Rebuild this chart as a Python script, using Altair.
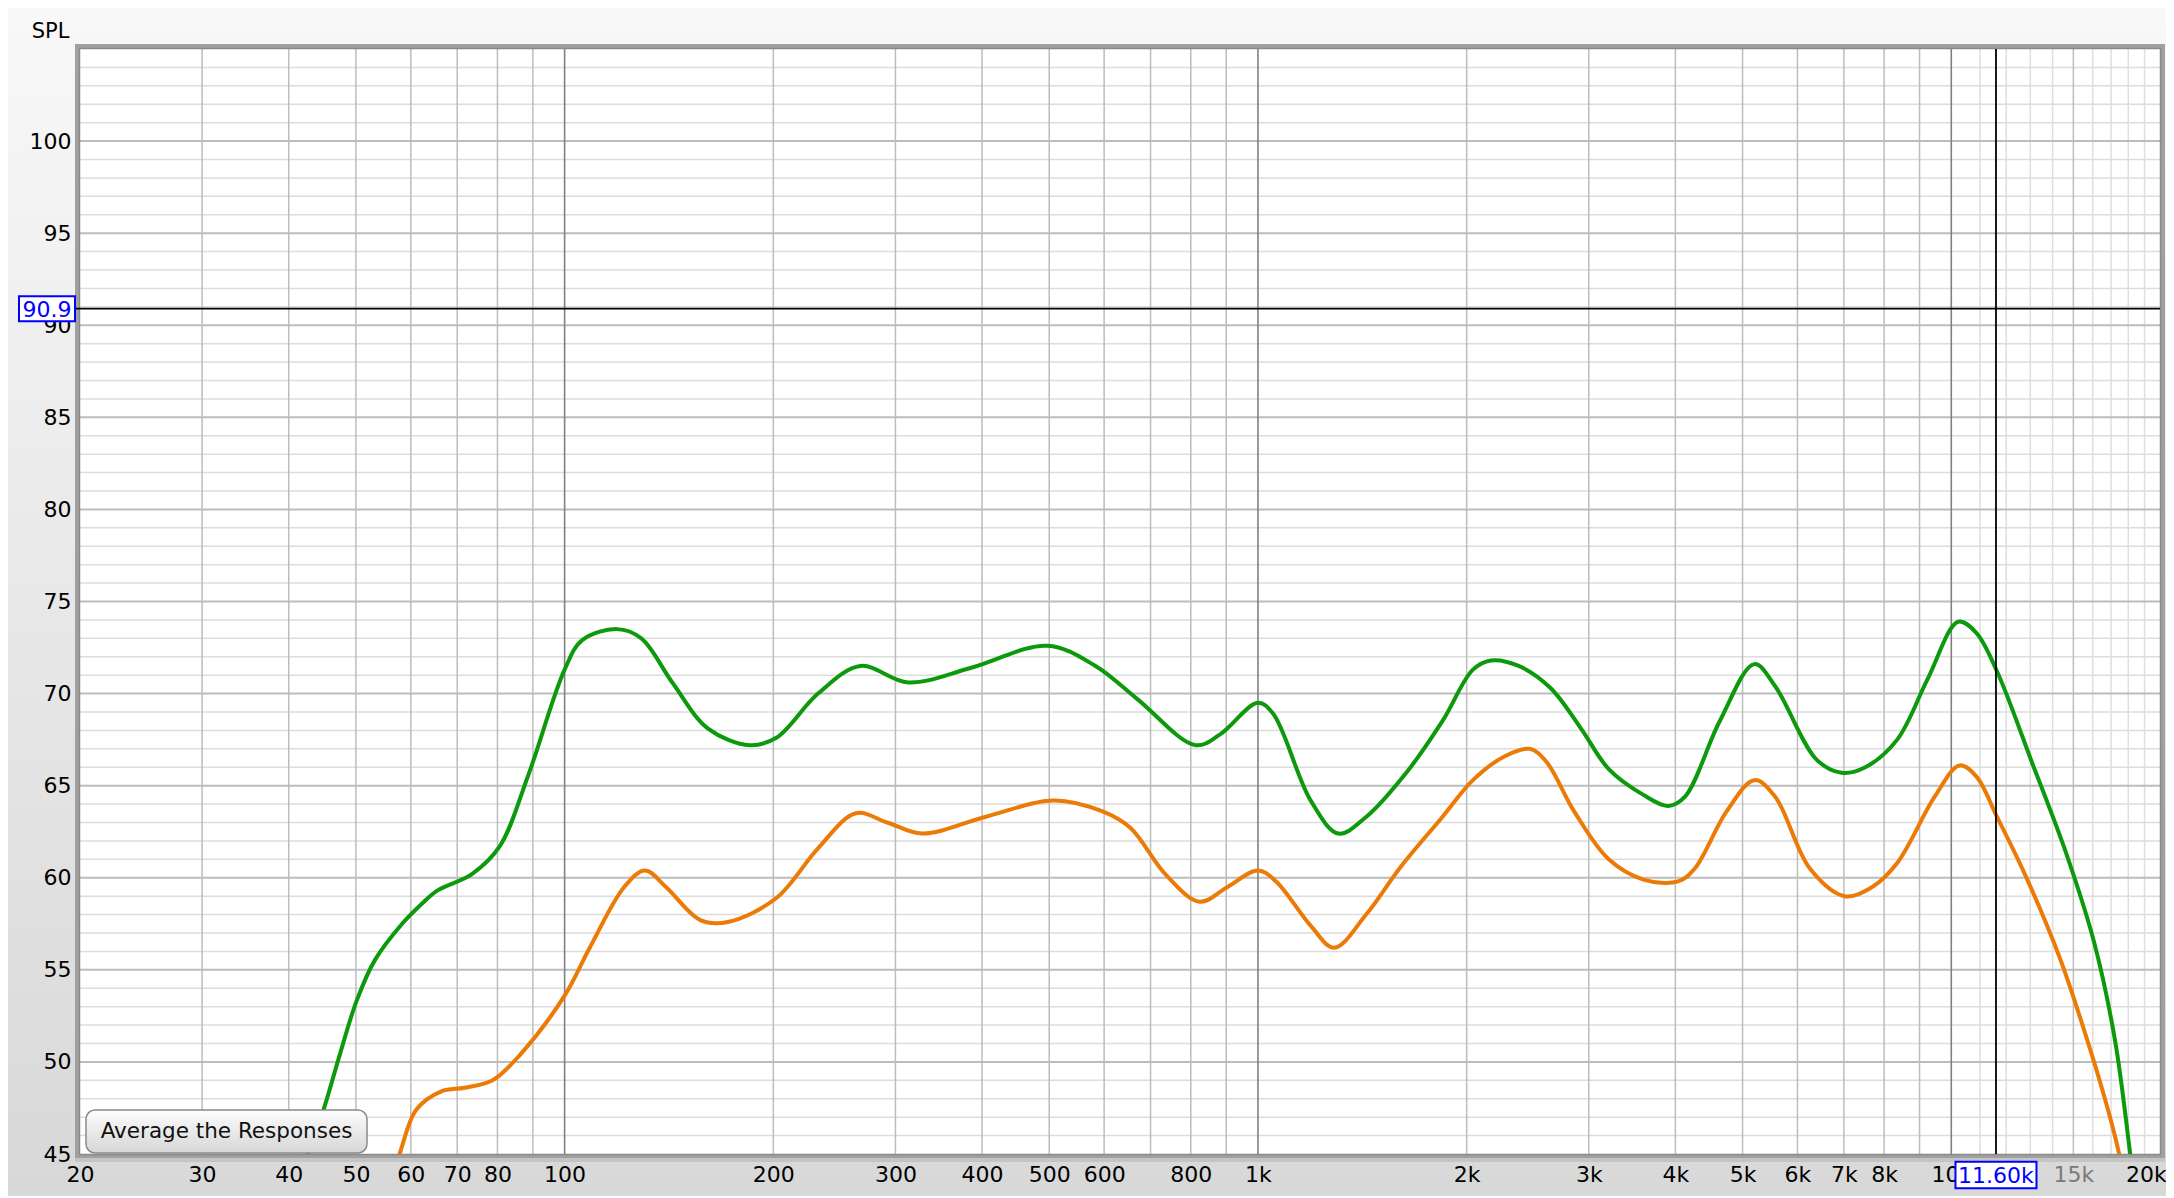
import altair as alt
import pandas as pd

# ---------------- data ----------------
green_freq = [41, 42.6, 44.9, 47.4, 50.1, 53.2, 58.3, 62.3, 65.5, 73.5, 80.6, 88.5, 100, 106, 119, 129, 143,
              161, 185, 202, 232, 267, 313, 386, 497, 583, 670, 813, 883, 1000, 1052,
              1191, 1306, 1432, 1644, 1845, 2042, 2168, 2377, 2642, 2924, 3206, 3597, 3908, 4130,
              4634, 5200, 5572, 6398, 6950, 7516, 8356, 9247, 10233, 10866, 11642, 13062, 14655, 16069,
              17220, 18116, 18800]
green_spl = [43, 45, 47.4, 50.4, 53.3, 55.5, 57.5, 58.6, 59.3, 60.2, 61.7, 65.5, 71.3, 72.9, 73.5, 73.0, 70.6,
             68.1, 67.2, 67.6, 70.0, 71.5, 70.6, 71.4, 72.6, 71.5, 69.7, 67.2, 67.8, 69.5, 68.9,
             64.2, 62.4, 63.3, 65.8, 68.5, 71.3, 71.8, 71.5, 70.3, 68.1, 65.9, 64.5, 63.9, 64.4,
             68.5, 71.6, 70.4, 66.4, 65.7, 66.0, 67.5, 70.8, 73.9, 73.3, 71.2, 66.3, 61.3, 56.5,
             51.2, 45, 40]

orange_freq = [56, 57.8, 61.1, 66.4, 71.8, 78.7, 86.3, 100, 108.7, 121.9, 130.6, 140, 157, 172,
               202, 232, 263, 292, 328, 404, 508, 597, 655, 735, 824, 904, 1000, 1062,
               1191, 1288, 1432, 1607, 1845, 2042, 2270, 2466, 2606, 2858, 3206, 3597, 4036, 4266,
               4742, 5200, 5572, 6252, 7015, 7691, 8356, 9464, 10280, 10866, 11642, 12766, 14322, 15704,
               16828, 17460, 18200]
orange_spl = [43.5, 45, 47.4, 48.4, 48.6, 49.0, 50.4, 53.6, 56.2, 59.5, 60.4, 59.5, 57.7, 57.6,
              58.9, 61.6, 63.5, 63.0, 62.4, 63.3, 64.2, 63.6, 62.7, 60.2, 58.7, 59.5, 60.4, 59.8,
              57.4, 56.2, 58.0, 60.6, 63.3, 65.3, 66.6, 67.0, 66.3, 63.6, 61.0, 59.9, 59.8, 60.5,
              63.6, 65.3, 64.4, 60.5, 59.0, 59.5, 60.8, 64.4, 66.1, 65.5, 63.3, 60.2, 55.7, 51.2,
              47.4, 45, 41]

x_tick_values = [20, 30, 40, 50, 60, 70, 80, 100, 200, 300, 400, 500, 600, 800, 1000,
                 2000, 3000, 4000, 5000, 6000, 7000, 8000, 10000, 15000, 20000]
x_tick_labels = ["20", "30", "40", "50", "60", "70", "80", "100", "200", "300", "400", "500",
                 "600", "800", "1k", "2k", "3k", "4k", "5k", "6k", "7k", "8k", "10k", "15k", "20kHz"]
y_tick_values = [45, 50, 55, 60, 65, 70, 75, 80, 85, 90, 95, 100]

grid_major_freq = [100, 1000, 10000]
grid_freq = [30, 40, 50, 60, 70, 80, 90, 200, 300, 400, 500, 600, 700, 800, 900,
             2000, 3000, 4000, 5000, 6000, 7000, 8000, 9000, 15000]
grid_minor_freq = [11000, 12000, 13000, 14000, 16000, 17000, 18000, 19000]
grid_major_spl = [50, 55, 60, 65, 70, 75, 80, 85, 90, 95, 100]
grid_minor_spl = [v for v in range(46, 105) if v % 5 != 0]

cursor_freq = [11600]
cursor_freq_label = ["11.60k"]
cursor_spl = [90.9]
cursor_spl_label = ["90.9"]
button_label = ["Average the Responses"]

# ---------------- layout ----------------
W, H = 2080, 1105
PL, PT, PR, PB = 72, 41, 6, 42
FONT = "DejaVu Sans"

xs = alt.Scale(type="log", domain=[20, 20000], nice=False)
ys = alt.Scale(domain=[45, 105], nice=False, zero=False)

lbl_expr = ""
for v, t in zip(x_tick_values, x_tick_labels):
    lbl_expr += f"datum.value == {v} ? '{t}' : "
lbl_expr += "''"

x_axis = alt.Axis(values=x_tick_values, labelExpr=lbl_expr, grid=False, domain=False, ticks=False,
                  labelPadding=10, labelFont=FONT, labelFontSize=22, labelOverlap=False,
                  labelFlush=False, labelBound=False,
                  labelColor=alt.expr("datum.value == 15000 ? '#8c8c8c' : '#000000'"),
                  title=None, zindex=0)
y_axis = alt.Axis(values=y_tick_values, grid=False, domain=False, ticks=False, labelPadding=9,
                  labelFont=FONT, labelFontSize=22, labelColor="#000000", labelOverlap=False,
                  labelFlush=False,
                  title="SPL", titleAngle=0, titleX=-30, titleY=-18, titleAlign="center",
                  titleBaseline="middle", titleFont=FONT, titleFontSize=21,
                  titleFontWeight="normal", titleColor="#000000", zindex=0)

one = pd.DataFrame({"k": [0]})

# background shading overlay (outside area)
bg = alt.Chart(one).mark_rect(
    fill=alt.Gradient(gradient="linear",
                      stops=[alt.GradientStop(color="rgba(0,0,0,0)", offset=0),
                             alt.GradientStop(color="rgba(0,0,0,0.13)", offset=1)],
                      x1=0, x2=0, y1=0, y2=1)
).encode(x=alt.value(-PL), x2=alt.value(W + PR), y=alt.value(-PT), y2=alt.value(H + PB))

plot_bg = alt.Chart(one).mark_rect(fill="white").encode(
    x=alt.value(0), x2=alt.value(W), y=alt.value(0), y2=alt.value(H))

def vrules(freqs, color, width=1.5):
    return alt.Chart(pd.DataFrame({"f": freqs})).mark_rule(color=color, strokeWidth=width).encode(
        x=alt.X("f:Q", scale=xs, axis=x_axis))

def hrules(spls, color, width=1.5):
    return alt.Chart(pd.DataFrame({"s": spls})).mark_rule(color=color, strokeWidth=width).encode(
        y=alt.Y("s:Q", scale=ys, axis=y_axis))

g_hmin = hrules(grid_minor_spl, "#dddddd")
g_vmin = vrules(grid_minor_freq, "#dedede")
g_hmaj = hrules(grid_major_spl, "#bcbcbc", 2)
g_v = vrules(grid_freq, "#bdbdbd")
g_vmaj = vrules(grid_major_freq, "#808080", 1.6)

frame = alt.Chart(one).mark_rect(fillOpacity=0, stroke="#a0a0a0", strokeWidth=5).encode(
    x=alt.value(-2.5), x2=alt.value(W + 2.5), y=alt.value(-2.5), y2=alt.value(H + 2.5))
frame_in = alt.Chart(one).mark_rect(fillOpacity=0, stroke="#8a8a8a", strokeWidth=1.5).encode(
    x=alt.value(-0.5), x2=alt.value(W + 0.5), y=alt.value(-0.5), y2=alt.value(H + 0.5))
frame_shadow = alt.Chart(one).mark_rule(color="#c4c4c4", strokeWidth=4).encode(
    x=alt.value(-5), x2=alt.value(W + 5), y=alt.value(H + 6))

curves_df = pd.concat([
    pd.DataFrame({"freq": green_freq, "spl": green_spl, "series": "green"}),
    pd.DataFrame({"freq": orange_freq, "spl": orange_spl, "series": "orange"}),
])
curves = alt.Chart(curves_df).mark_line(interpolate="catmull-rom", strokeWidth=4, clip=True).encode(
    x=alt.X("freq:Q", scale=xs, axis=x_axis),
    y=alt.Y("spl:Q", scale=ys, axis=y_axis),
    color=alt.Color("series:N", scale=alt.Scale(domain=["green", "orange"],
                                                range=["#0c990c", "#ec7a06"]), legend=None),
    detail="series:N",
)

cur_v = alt.Chart(pd.DataFrame({"f": cursor_freq})).mark_rule(color="black", strokeWidth=1.8).encode(
    x=alt.X("f:Q", scale=xs, axis=x_axis))
cur_h = alt.Chart(pd.DataFrame({"s": cursor_spl})).mark_rule(color="black", strokeWidth=1.8).encode(
    y=alt.Y("s:Q", scale=ys, axis=y_axis), x=alt.value(-5), x2=alt.value(W))

xbox_df = pd.DataFrame({"f": cursor_freq, "t": cursor_freq_label})
xbox = alt.Chart(xbox_df).mark_point(
    shape="M-1,-0.33H1V0.33H-1Z", size=81 * 81, filled=True, fill="white",
    stroke="#0000ff", strokeWidth=2, opacity=1
).encode(x=alt.X("f:Q", scale=xs, axis=x_axis), y=alt.value(H + 21))
xbox_t = alt.Chart(xbox_df).mark_text(font=FONT, fontSize=22, color="#0000ff", baseline="middle",
                                       align="center").encode(
    x=alt.X("f:Q", scale=xs, axis=x_axis), y=alt.value(H + 22), text="t:N")

ybox_df = pd.DataFrame({"s": cursor_spl, "t": cursor_spl_label})
ybox = alt.Chart(ybox_df).mark_point(
    shape="M-1,-0.446H1V0.446H-1Z", size=56 * 56, filled=True, fill="white",
    stroke="#0000ff", strokeWidth=2, opacity=1
).encode(y=alt.Y("s:Q", scale=ys, axis=y_axis), x=alt.value(-33))
ybox_t = alt.Chart(ybox_df).mark_text(font=FONT, fontSize=22, color="#0000ff", baseline="middle",
                                       align="center", dy=1).encode(
    y=alt.Y("s:Q", scale=ys, axis=y_axis), x=alt.value(-33), text="t:N")

btn = alt.Chart(one).mark_rect(
    cornerRadius=9, stroke="#8a8a8a", strokeWidth=1.5,
    fill=alt.Gradient(gradient="linear",
                      stops=[alt.GradientStop(color="#fdfdfd", offset=0),
                             alt.GradientStop(color="#d6d6d6", offset=1)],
                      x1=0, x2=0, y1=0, y2=1)
).encode(x=alt.value(6), x2=alt.value(287), y=alt.value(1061), y2=alt.value(1104))
btn_t = alt.Chart(pd.DataFrame({"t": button_label})).mark_text(
    font=FONT, fontSize=21.5, color="#111111", align="center", baseline="middle"
).encode(x=alt.value(146.5), y=alt.value(1083), text="t:N")

chart = alt.layer(
    bg, plot_bg, g_hmin, g_vmin, g_hmaj, g_v, g_vmaj, frame, frame_in, frame_shadow,
    curves, cur_v, cur_h, xbox, xbox_t, ybox, ybox_t, btn, btn_t
).properties(
    width=W, height=H,
    autosize=alt.AutoSizeParams(type="none"),
    padding={"left": PL, "top": PT, "right": PR, "bottom": PB},
    background="#f8f8f8",
).configure_view(stroke=None)

chart.save("out.html", embed_options={"renderer": "svg", "actions": False})
